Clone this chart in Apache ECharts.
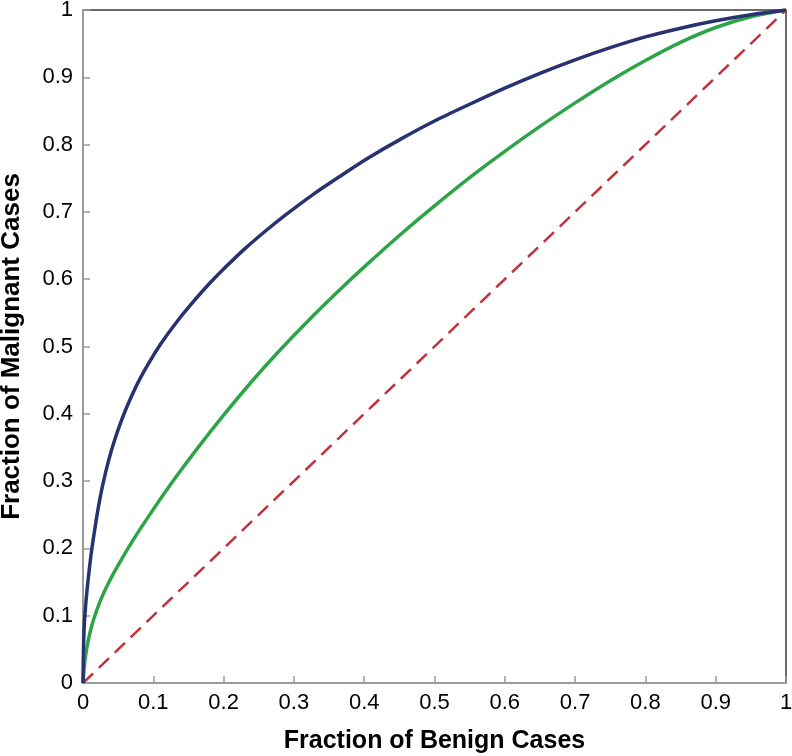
<!DOCTYPE html>
<html>
<head>
<meta charset="utf-8">
<script src="https://cdn.jsdelivr.net/npm/echarts@6/dist/echarts.min.js"></script>
<style>
html,body{margin:0;padding:0;background:#fff;}
#chart{width:792px;height:756px;}
</style>
</head>
<body>
<div id="chart"></div>
<script>
// Data
var blueX = [0, 0.0005, 0.001, 0.002, 0.003, 0.005, 0.008, 0.012, 0.017, 0.022, 0.028, 0.036, 0.045, 0.055, 0.066, 0.08, 0.095, 0.11, 0.13, 0.15, 0.175, 0.2, 0.23, 0.26, 0.29, 0.33, 0.37, 0.404, 0.45, 0.5, 0.55, 0.6, 0.65, 0.7, 0.75, 0.8, 0.85, 0.9, 0.95, 1];
var blueY = [0, 0.04, 0.065, 0.09, 0.105, 0.13, 0.16, 0.195, 0.23, 0.262, 0.294, 0.329, 0.361, 0.391, 0.419, 0.45, 0.478, 0.503, 0.532, 0.558, 0.588, 0.615, 0.645, 0.672, 0.697, 0.728, 0.756, 0.779, 0.807, 0.835, 0.86, 0.884, 0.906, 0.926, 0.944, 0.96, 0.973, 0.984, 0.993, 1];
var greenX = [0, 0.002, 0.005, 0.01, 0.015, 0.025, 0.035, 0.05, 0.071, 0.1, 0.128, 0.16, 0.2, 0.24, 0.276, 0.32, 0.366, 0.404, 0.45, 0.5, 0.55, 0.6, 0.65, 0.7, 0.75, 0.8, 0.85, 0.9, 0.95, 1];
var greenY = [0, 0.026, 0.05, 0.075, 0.094, 0.123, 0.146, 0.175, 0.212, 0.258, 0.3, 0.345, 0.398, 0.448, 0.49, 0.538, 0.585, 0.622, 0.665, 0.709, 0.751, 0.79, 0.827, 0.862, 0.895, 0.925, 0.952, 0.974, 0.99, 1];
var diagX = [0, 1];
var diagY = [0, 1];
var xTickLabels = ['0', '0.1', '0.2', '0.3', '0.4', '0.5', '0.6', '0.7', '0.8', '0.9', '1'];
var yTickLabels = ['0', '0.1', '0.2', '0.3', '0.4', '0.5', '0.6', '0.7', '0.8', '0.9', '1'];
var xTitle = 'Fraction of Benign Cases';
var yTitle = 'Fraction of Malignant Cases';

function zip(xs, ys) { return xs.map(function (x, i) { return [x, ys[i]]; }); }

var chart = echarts.init(document.getElementById('chart'), null, {renderer: 'canvas'});
var font = 'Liberation Sans, Arial, Helvetica, sans-serif';
chart.setOption({
  animation: false,
  backgroundColor: '#ffffff',
  grid: {
    left: 83, right: 6, top: 10, bottom: 73,
    outerBoundsMode: 'none', containLabel: false,
    show: true, borderColor: '#3a3a3a', borderWidth: 1.5, backgroundColor: 'transparent'
  },
  xAxis: {
    type: 'value', min: 0, max: 1, interval: 0.1,
    name: xTitle, nameLocation: 'middle', nameGap: 46,
    nameTextStyle: {fontFamily: font, fontSize: 25, fontWeight: 'bold', color: '#000'},
    axisLine: {show: true, onZero: false, lineStyle: {color: '#9a9a9a', width: 2}},
    axisTick: {show: true, inside: true, length: 7, lineStyle: {color: '#9a9a9a', width: 1.5}},
    axisLabel: {
      margin: 9, fontFamily: font, fontSize: 22, color: '#000',
      formatter: function (v) { return xTickLabels[Math.round(v * 10)]; }
    },
    splitLine: {show: false}
  },
  yAxis: {
    type: 'value', min: 0, max: 1, interval: 0.1,
    name: yTitle, nameLocation: 'middle', nameGap: 58,
    nameTextStyle: {fontFamily: font, fontSize: 26, fontWeight: 'bold', color: '#000'},
    axisLine: {show: true, onZero: false, lineStyle: {color: '#9a9a9a', width: 2}},
    axisTick: {show: true, inside: true, length: 7, lineStyle: {color: '#9a9a9a', width: 1.5}},
    axisLabel: {
      margin: 10, fontFamily: font, fontSize: 22, color: '#000',
      formatter: function (v) { return yTickLabels[Math.round(v * 10)]; }
    },
    splitLine: {show: false}
  },
  series: [
    {
      type: 'line', data: zip(diagX, diagY), showSymbol: false, symbol: 'none',
      lineStyle: {color: '#c0333c', width: 2.5, type: [14, 8]}, z: 2
    },
    {
      type: 'line', data: zip(greenX, greenY), showSymbol: false, symbol: 'none',
      smooth: 0.3,
      lineStyle: {color: '#2ea448', width: 3.5}, z: 3
    },
    {
      type: 'line', data: zip(blueX, blueY), showSymbol: false, symbol: 'none',
      smooth: 0.3,
      lineStyle: {color: '#27326f', width: 3.5}, z: 4
    }
  ]
});
</script>
</body>
</html>
